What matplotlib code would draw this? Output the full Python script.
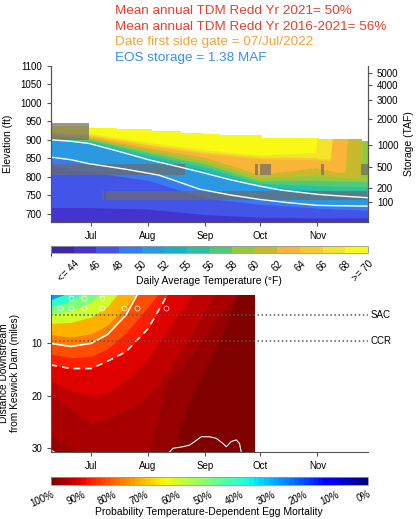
import numpy as np
import matplotlib
matplotlib.use('Agg')
import matplotlib.pyplot as plt
import matplotlib.dates as mdates
from matplotlib.colors import ListedColormap, BoundaryNorm, Normalize
from matplotlib.cm import ScalarMappable

plt.rcParams['font.family'] = ['Liberation Sans', 'DejaVu Sans']
plt.rcParams['font.size'] = 7


def dt(x):
    return np.array(x, dtype='datetime64[h]')


# ---------------- data: reservoir temperature (top panel) ----------------
temp_dates = ['2022-06-09', '2022-07-01', '2022-08-01', '2022-09-01', '2022-10-01',
              '2022-10-31', '2022-11-02', '2022-11-08', '2022-11-10', '2022-11-16',
              '2022-11-18', '2022-11-24', '2022-11-26', '2022-11-29']
# elevation (ft) of the top of each temperature class, per date
elev_46 = [716, 716, 712, 697, 690, 688, 688, 688, 688, 688, 688, 688, 688, 688]
elev_48 = [831, 812, 790, 742, 725, 715, 714, 713, 712, 711, 711, 710, 709, 709]
elev_50 = [853, 835, 808, 766, 738, 723, 722, 721, 721, 721, 721, 720, 720, 720]
elev_52 = [898, 888, 844, 810, 772, 752, 751, 750, 749, 748, 747, 745, 744, 743]
elev_54 = [902, 893, 853, 818, 776, 762, 761, 760, 759, 759, 758, 758, 758, 758]
elev_56 = [905, 897, 860, 826, 782, 776, 775, 774, 773, 773, 773, 772, 772, 772]
elev_58 = [908, 900, 866, 834, 788, 790, 789, 788, 788, 787, 787, 787, 786, 786]
elev_60 = [911, 903, 872, 842, 797, 804, 803, 800, 799, 797, 797, 795, 950, 950]
elev_62 = [914, 906, 878, 852, 806, 824, 822, 816, 813, 812, 950, 950, 950, 950]
elev_64 = [917, 910, 884, 862, 848, 846, 845, 843, 950, 950, 950, 950, 950, 950]
elev_66 = [920, 913, 888, 867, 853, 852, 848, 848, 950, 950, 950, 950, 950, 950]
elev_68 = [924, 917, 893, 873, 858, 866, 950, 950, 950, 950, 950, 950, 950, 950]

surf_dates = ['2022-06-09', '2022-06-30', '2022-07-15', '2022-08-03', '2022-08-19',
              '2022-08-31', '2022-09-09', '2022-10-02', '2022-11-02', '2022-11-25', '2022-11-30']
surf_elev = [938, 933, 928, 924, 919, 915, 912, 906, 903, 897, 897]

upper_line_dates = ['2022-06-09', '2022-06-20', '2022-06-30', '2022-07-15', '2022-08-02',
                    '2022-08-15', '2022-08-29', '2022-09-16', '2022-10-01', '2022-10-13',
                    '2022-11-01', '2022-11-15', '2022-11-28']
upper_line_elev = [900, 896, 890, 870, 845, 830, 813, 790, 774, 763, 752, 747, 743]
lower_line_dates = ['2022-06-09', '2022-06-20', '2022-06-30', '2022-07-20', '2022-08-07',
                    '2022-08-29', '2022-09-15', '2022-10-01', '2022-10-15', '2022-11-01',
                    '2022-11-15', '2022-11-28']
lower_line_elev = [853, 846, 835, 820, 804, 766, 750, 738, 730, 722, 721, 720]

upper_gate_start = ['2022-06-09']
upper_gate_end = ['2022-06-30']
upper_gate_elev = (900, 946)
middle_gate_start = ['2022-06-09', '2022-09-28', '2022-10-01', '2022-11-03', '2022-11-24T12']
middle_gate_end = ['2022-08-21', '2022-09-29T12', '2022-10-07', '2022-11-04T12', '2022-11-28T12']
middle_gate_elev = (804, 833)
side_gate_start = ['2022-07-07', '2022-07-09']
side_gate_end = ['2022-07-08', '2022-11-28']
side_gate_elev = (738, 762)

storage_taf = [100, 200, 500, 1000, 2000, 3000, 4000, 5000]
storage_elev = [732.5, 769, 826, 885, 955, 1009, 1049.6, 1082]

temp_colors = ['#3e26a8', '#4433cc', '#4355e8', '#3a7af2', '#2a99e2', '#17b2c8', '#2dc09f',
               '#4fca78', '#93c840', '#c9b92c', '#fbb43a', '#f5cc2c', '#f4e42a', '#f9fa14']
temp_labels = ['<= 44', '46', '48', '50', '52', '55', '56', '58', '60', '62', '64', '66', '68', '>= 70']

# ---------------- data: egg mortality (bottom panel) ----------------
mort_dates = ['2022-06-09', '2022-06-20', '2022-07-01', '2022-07-10', '2022-07-20',
              '2022-08-01', '2022-08-12', '2022-08-25', '2022-09-10', '2022-09-28']
# distance (miles) where mortality reaches each level
mort_35 = [1.7, 0.2, -1, -1, -1, -1, -1, -1, -1, -1]
mort_45 = [3.0, 1.9, -0.5, -1, -1, -1, -1, -1, -1, -1]
mort_55 = [4.3, 3.8, 2.2, -0.5, -1, -1, -1, -1, -1, -1]
mort_65 = [6.2, 6.0, 5.0, 3.0, -1.5, -2, -2, -2, -2, -2]
mort_75 = [8.3, 8.8, 8.2, 6.5, 3.0, -2, -2, -2, -2, -2]
mort_80 = [10.0, 10.6, 10.0, 8.3, 4.6, -3, -3, -3, -3, -3]
mort_85 = [12.0, 12.7, 12.5, 11.0, 8.0, 3.0, -2, -3, -3, -3]
mort_90 = [14.1, 14.8, 14.8, 13.4, 11.6, 7.2, 0.5, -3, -5, -7]
mort_93 = [17.0, 19.0, 20.0, 19.5, 17.0, 13.0, 7.0, 1.0, -3, -5]
mort_95 = [19.5, 22.5, 25.3, 24.5, 22.8, 20.0, 15.2, 8.0, -2, -5]
mort_97 = [27.5, 30.0, 32.0, 32.0, 32.0, 31.0, 17.0, 12.0, 4.0, -3]
mort_99 = [33, 33, 33, 33, 33, 33, 33, 19.5, 8.5, -8]

bottom_line_dates = ['2022-08-12T16', '2022-08-14T12', '2022-08-19T22', '2022-08-23T12',
                     '2022-08-27T05', '2022-08-29T22', '2022-09-03T10', '2022-09-07T02',
                     '2022-09-10T17', '2022-09-12T12', '2022-09-15T05', '2022-09-17T22',
                     '2022-09-19T17', '2022-09-20T14']
bottom_line_dist = [30.7, 30.0, 29.7, 29.4, 28.5, 27.8, 27.8, 28.1, 29.1, 29.7, 28.7, 28.4, 29.1, 30.7]
corner_line_dates = ['2022-06-09', '2022-06-11']
corner_line_dist = [30.3, 30.7]

# contour label marks near the top of the mortality field
label_dates = ['2022-06-20', '2022-06-27', '2022-07-07', '2022-06-14', '2022-06-20',
               '2022-06-27', '2022-07-07', '2022-07-19', '2022-07-26', '2022-08-11']
label_dist = [1.4, 1.4, 1.4, 3.3, 3.3, 3.3, 3.3, 3.3, 3.3, 3.3]

site_names = ['SAC', 'CCR']
site_dist = [4.5, 9.5]

mort_ticks = [100, 90, 80, 70, 60, 50, 40, 30, 20, 10, 0]

# ---------------- figure ----------------
W, H = 418, 519
fig = plt.figure(figsize=(W / 100, H / 100), dpi=100)
xlim = dt(['2022-06-09T06', '2022-11-28T12'])
axis_col = '#555555'

title_lines = [('Mean annual TDM Redd Yr 2021= 50%', '#e8402c'),
               ('Mean annual TDM Redd Yr 2016-2021= 56%', '#e8402c'),
               ('Date first side gate = 07/Jul/2022', '#f3a43b'),
               ('EOS storage = 1.38 MAF', '#3a8fe6')]
for i, (txt, col) in enumerate(title_lines):
    fig.text(115 / W, 1 - (11 + 15.5 * i) / H, txt, color=col, fontsize=9.7, ha='left', va='center')

# ===== top panel =====
ax = fig.add_axes([51 / W, 1 - 222 / H, 317 / W, 156 / H])
ax.set_facecolor('white')
ax.fill_between(xlim, 670, 1100, color=temp_colors[13], lw=0)
isotherms = [elev_68, elev_66, elev_64, elev_62, elev_60, elev_58, elev_56,
             elev_54, elev_52, elev_50, elev_48, elev_46]
for elev, col in zip(isotherms, temp_colors[12:0:-1]):
    ax.fill_between(dt(temp_dates), 670, elev, color=col, lw=0)
ax.fill_between(dt(surf_dates), surf_elev, 1100, step='post', color='white', lw=0)

ax.plot(dt(upper_line_dates), upper_line_elev, color='white', lw=1)
ax.plot(dt(lower_line_dates), lower_line_elev, color='white', lw=1)

for starts, ends, (lo, hi) in [(upper_gate_start, upper_gate_end, upper_gate_elev),
                               (middle_gate_start, middle_gate_end, middle_gate_elev),
                               (side_gate_start, side_gate_end, side_gate_elev)]:
    for s, e in zip(starts, ends):
        ax.fill_between(dt([s, e]), lo, hi, color='#6b6b6b', alpha=0.7, lw=0)

ax.set_xlim(xlim)
ax.set_ylim(677, 1100)
ax.set_yticks(np.arange(700, 1101, 50))
ax.set_ylabel('Elevation (ft)', fontsize=7.5)
ax.yaxis.set_label_coords(-0.12, 0.5)
ax.xaxis.set_major_locator(mdates.MonthLocator(bymonth=[7, 8, 9, 10, 11]))
ax.xaxis.set_major_formatter(mdates.DateFormatter('%b'))

ax2 = ax.twinx()
ax2.set_ylim(ax.get_ylim())
ax2.set_yticks(storage_elev)
ax2.set_yticklabels([str(s) for s in storage_taf])
ax2.set_ylabel('Storage (TAF)', fontsize=7.5)

for a in (ax, ax2):
    a.spines['top'].set_visible(False)
    for sp in ('left', 'right', 'bottom'):
        a.spines[sp].set_color(axis_col)
        a.spines[sp].set_linewidth(0.8)
    a.tick_params(colors=axis_col, labelcolor='black', labelsize=7, length=3, width=0.8)

# temperature colorbar
cax1 = fig.add_axes([51 / W, 1 - 253.3 / H, 317 / W, 7.6 / H])
cb1 = fig.colorbar(ScalarMappable(norm=BoundaryNorm(np.arange(15), 14),
                                  cmap=ListedColormap(temp_colors)),
                   cax=cax1, orientation='horizontal')
cb1.set_ticks(np.arange(1, 15))
cb1.set_ticklabels(temp_labels)
cb1.outline.set_edgecolor('#999999')
cb1.outline.set_linewidth(0.6)
cax1.tick_params(length=0, labelsize=7, pad=4)
for lbl in cax1.get_xticklabels():
    lbl.set_rotation(45)
    lbl.set_ha('right')
    lbl.set_va('top')
    lbl.set_rotation_mode('anchor')
fig.text(209 / W, 1 - 281.5 / H, 'Daily Average Temperature (\u00b0F)', fontsize=7.5,
         ha='center', va='center')

# ===== bottom panel =====
jet = plt.get_cmap('jet')
bx = fig.add_axes([51 / W, 1 - 451.7 / H, 317 / W, 156.7 / H])
mt = dt(mort_dates)
bx.fill_between(mt, -10, 40, color=jet(1.0), lw=0)
mort_curves = [mort_99, mort_97, mort_95, mort_93, mort_90, mort_85,
               mort_80, mort_75, mort_65, mort_55, mort_45, mort_35]
band_vals = [0.978, 0.962, 0.942, 0.915, 0.875, 0.825, 0.775, 0.72, 0.6, 0.5, 0.4, 0.28]
for curve, v in zip(mort_curves, band_vals):
    bx.fill_between(mt, -10, curve, color=jet(v), lw=0)

bx.plot(mt, mort_80, color='white', lw=1.2)
bx.plot(mt, mort_90, color='white', lw=1.2, dashes=(4, 3))
bx.plot(dt(bottom_line_dates), bottom_line_dist, color='white', lw=0.8)
bx.plot(dt(corner_line_dates), corner_line_dist, color='white', lw=0.8)
bx.plot(dt(label_dates), label_dist, ls='none', marker='o', ms=3.5, mfc='none',
        mec='white', mew=0.6, alpha=0.8)

for name, dist in zip(site_names, site_dist):
    bx.axhline(dist, color='#555555', ls=':', lw=1.1)
    bx.text(1.008, dist, name, transform=bx.get_yaxis_transform(), fontsize=7,
            ha='left', va='center')

bx.set_xlim(xlim)
bx.set_ylim(30.65, 0.78)
bx.set_yticks([10, 20, 30])
bx.set_ylabel('Distance Downstream\nfrom Keswick Dam (miles)', fontsize=7.3, linespacing=1.1)
bx.yaxis.set_label_coords(-0.098, 0.5)
bx.xaxis.set_major_locator(mdates.MonthLocator(bymonth=[7, 8, 9, 10, 11]))
bx.xaxis.set_major_formatter(mdates.DateFormatter('%b'))
for sp in ('top', 'right'):
    bx.spines[sp].set_visible(False)
for sp in ('left', 'bottom'):
    bx.spines[sp].set_color(axis_col)
    bx.spines[sp].set_linewidth(0.8)
bx.tick_params(colors=axis_col, labelcolor='black', labelsize=7, length=3, width=0.8)

# mortality colorbar
cax2 = fig.add_axes([51 / W, 1 - 485 / H, 317 / W, 8.3 / H])
cb2 = fig.colorbar(ScalarMappable(norm=Normalize(0, 100), cmap=plt.get_cmap('jet', 64)),
                   cax=cax2, orientation='horizontal')
cax2.invert_xaxis()
cb2.set_ticks(mort_ticks)
cb2.set_ticklabels([f'{m}%' for m in mort_ticks])
cb2.outline.set_edgecolor('#999999')
cb2.outline.set_linewidth(0.6)
cax2.tick_params(length=0, labelsize=7, pad=3)
for lbl in cax2.get_xticklabels():
    lbl.set_rotation(25)
    lbl.set_ha('right')
    lbl.set_va('top')
    lbl.set_rotation_mode('anchor')
fig.text(209 / W, 1 - 512 / H, 'Probability Temperature-Dependent Egg Mortality',
         fontsize=7.5, ha='center', va='center')

fig.savefig('out.png', dpi=100)
